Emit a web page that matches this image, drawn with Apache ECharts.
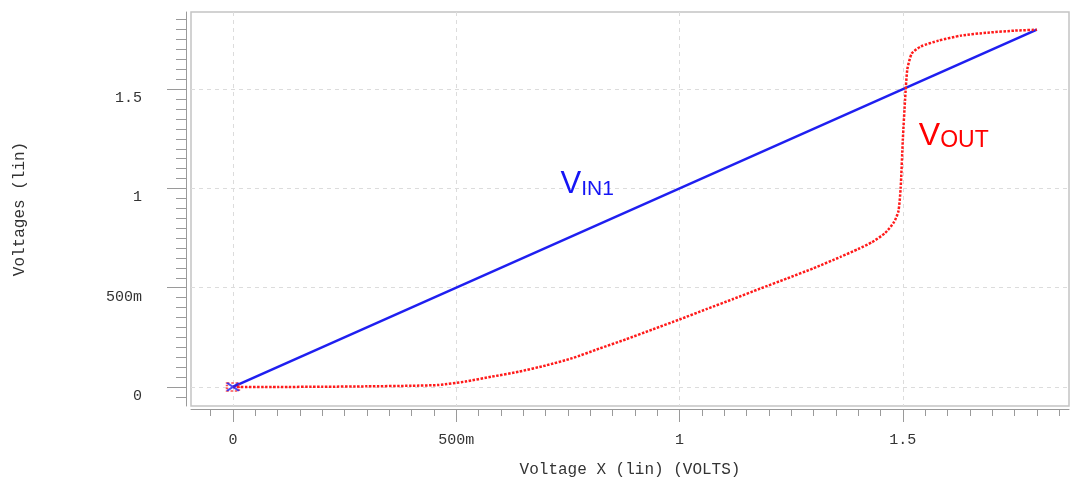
<!DOCTYPE html>
<html>
<head>
<meta charset="utf-8">
<title>VTC</title>
<script src="https://cdn.jsdelivr.net/npm/echarts@6.0.0/dist/echarts.min.js"></script>
<style>
    html, body { margin: 0; padding: 0; background: #fff; }
    #main { width: 1071px; height: 485px; }
</style>
</head>
<body>
<div id="main"></div>
<script>
// input sweep (VIN1 follows the x axis)
var vinX = [0, 1.8];
var vinY = [0, 1.8];

// inverter output
var voutX = [0, 0.1, 0.2, 0.3, 0.4, 0.46, 0.52, 0.58, 0.64, 0.7, 0.76, 0.82, 0.88, 0.94, 1.0,
    1.06, 1.12, 1.18, 1.24, 1.3, 1.36, 1.4, 1.43, 1.46, 1.48, 1.49, 1.495, 1.5, 1.505,
    1.51, 1.52, 1.54, 1.58, 1.63, 1.69, 1.75, 1.8];
var voutY = [0, 0, 0.001, 0.003, 0.006, 0.01, 0.027, 0.052, 0.077, 0.108, 0.145, 0.193, 0.24, 0.29, 0.34,
    0.392, 0.443, 0.495, 0.546, 0.598, 0.655, 0.695, 0.728, 0.775, 0.83, 0.885, 1.0, 1.25, 1.45,
    1.6, 1.68, 1.715, 1.745, 1.77, 1.785, 1.795, 1.8];

// axis ticks
var xMajor = [0, 0.5, 1, 1.5];
var xTickLabels = ['0', '500m', '1', '1.5'];
var yMajor = [0, 0.5, 1, 1.5];
var yTickLabels = ['0', '500m', '1', '1.5'];

var X_MIN = -0.094, X_MAX = 1.872;
var Y_MIN = -0.096, Y_MAX = 1.889;

function minorList(from, to){
    var out = [];
    for(var i = Math.round(from*20); i <= Math.round(to*20); i++){
        out.push(i/20);
    }
    return out;
}
var xMinor = minorList(-0.05, 1.85);
var yMinor = minorList(-0.05, 1.9);

function pairs(a, b){
    var d = [];
    for(var i=0;i<a.length;i++){ d.push([a[i], b[i]]); }
    return d;
}
function labelOf(vals, labels){
    return function(v){
        for(var i=0;i<vals.length;i++){
            if(Math.abs(vals[i]-v) < 1e-9) return labels[i];
        }
        return '';
    };
}

var AXIS_GRAY = '#9a9a9a';
var MONO = '"Liberation Mono", "DejaVu Sans Mono", monospace';

var myChart = echarts.init(document.getElementById('main'));
var option = {
    backgroundColor: '#fff',
    animation: false,
    grid: {
        left: 191, right: 2, top: 12, bottom: 79,
        show: true,
        borderColor: '#c4c4c4',
        borderWidth: 1.5,
        outerBoundsMode: 'none'
    },
    xAxis: [
        {
            type: 'value', min: X_MIN, max: X_MAX, position: 'bottom', offset: 3,
            axisLine: { show: true, onZero: false, lineStyle: { color: AXIS_GRAY, width: 1 } },
            axisTick: { show: true, length: 13, customValues: xMajor, lineStyle: { color: AXIS_GRAY } },
            axisLabel: {
                customValues: xMajor, margin: 24,
                formatter: labelOf(xMajor, xTickLabels),
                fontFamily: MONO, fontSize: 15, color: '#333'
            },
            splitLine: { show: true, lineStyle: { color: '#dcdcdc', type: [4, 4], width: 1 } },
            name: 'Voltage X (lin) (VOLTS)',
            nameLocation: 'middle', nameGap: 53,
            nameTextStyle: { fontFamily: MONO, fontSize: 16, color: '#333' }
        },
        {
            type: 'value', min: X_MIN, max: X_MAX, position: 'bottom', offset: 3,
            axisLine: { show: false, onZero: false },
            axisTick: { show: true, length: 7, customValues: xMinor, lineStyle: { color: AXIS_GRAY } },
            axisLabel: { show: false },
            splitLine: { show: false }
        }
    ],
    yAxis: [
        {
            type: 'value', min: Y_MIN, max: Y_MAX, position: 'left', offset: 5,
            axisLine: { show: true, onZero: false, lineStyle: { color: AXIS_GRAY, width: 1 } },
            axisTick: { show: true, length: 19, customValues: yMajor, lineStyle: { color: AXIS_GRAY } },
            axisLabel: {
                customValues: yMajor, margin: 44,
                formatter: labelOf(yMajor, yTickLabels),
                verticalAlign: 'top', lineHeight: 18,
                fontFamily: MONO, fontSize: 15, color: '#333'
            },
            splitLine: { show: true, lineStyle: { color: '#dcdcdc', type: [4, 4], width: 1 } },
            name: 'Voltages (lin)',
            nameLocation: 'middle', nameGap: 158,
            nameTextStyle: { fontFamily: MONO, fontSize: 16, color: '#333' }
        },
        {
            type: 'value', min: Y_MIN, max: Y_MAX, position: 'left', offset: 5,
            axisLine: { show: false, onZero: false },
            axisTick: { show: true, length: 10, customValues: yMinor, lineStyle: { color: AXIS_GRAY } },
            axisLabel: { show: false },
            splitLine: { show: false }
        }
    ],
    series: [
        {
            name: 'VIN1',
            type: 'line',
            data: pairs(vinX, vinY),
            showSymbol: false,
            lineStyle: { color: '#1f1ff0', width: 2.5 },
            markPoint: {
                symbolSize: 0,
                data: [{ coord: [0.793, 1.02] }],
                label: {
                    show: true, position: 'inside',
                    formatter: '{v|V}{s|IN1}',
                    rich: {
                        v: { fontFamily: '"Liberation Sans", Arial', fontSize: 31, color: '#1515f5', verticalAlign: 'bottom' },
                        s: { fontFamily: '"Liberation Sans", Arial', fontSize: 21, color: '#1515f5', verticalAlign: 'bottom' }
                    }
                }
            },
            z: 3
        },
        {
            name: 'VOUT',
            type: 'line',
            data: pairs(voutX, voutY),
            showSymbol: false,
            smooth: 0.2,
            lineStyle: { color: '#ff1a1a', width: 2.5, type: [2.5, 1.5] },
            markPoint: {
                symbolSize: 0,
                data: [{ coord: [1.614, 1.262] }],
                label: {
                    show: true, position: 'inside',
                    formatter: '{v|V}{s|OUT}',
                    rich: {
                        v: { fontFamily: '"Liberation Sans", Arial', fontSize: 32, color: '#ff0000', verticalAlign: 'bottom' },
                        s: { fontFamily: '"Liberation Sans", Arial', fontSize: 23, color: '#ff0000', verticalAlign: 'bottom' }
                    }
                }
            },
            z: 4
        },
        {
            name: 'start',
            type: 'scatter',
            data: [[voutX[0], voutY[0]]],
            symbol: 'rect',
            symbolSize: [12, 8],
            itemStyle: { color: 'rgba(0,0,0,0)', borderColor: '#ff2020', borderWidth: 2, borderType: [2, 1.5] },
            z: 5
        },
        {
            name: 'startX',
            type: 'scatter',
            data: [[vinX[0], vinY[0]]],
            symbol: 'path://M0,0L12,8M12,0L0,8',
            symbolSize: [12, 8],
            itemStyle: { color: 'rgba(0,0,0,0)', borderColor: '#1f1ff0', borderWidth: 2 },
            z: 6
        }
    ]
};
myChart.setOption(option);
</script>
</body>
</html>
